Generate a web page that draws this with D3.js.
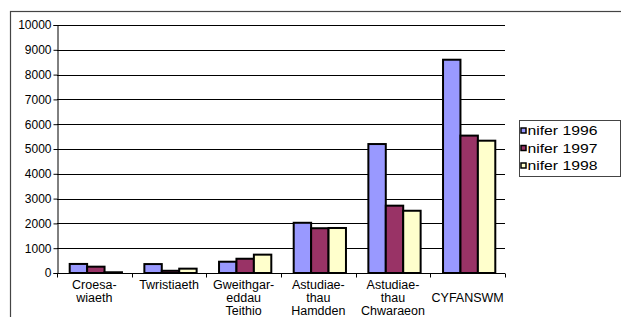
<!DOCTYPE html>
<html><head><meta charset="utf-8">
<script src="https://cdn.jsdelivr.net/npm/d3@7"></script>
<style>
html,body{margin:0;padding:0;background:#fff;}
svg{display:block;font-family:Arial,"Liberation Sans",sans-serif;}
</style></head>
<body><svg id="c" width="621" height="317"></svg>
<script>
const categories = ["Croesawiaeth","Twristiaeth","Gweithgareddau Teithio","Astudiaethau Hamdden","Astudiaethau Chwaraeon","CYFANSWM"];
const categoryLines = [["Croesa-","wiaeth"],["Twristiaeth"],["Gweithgar-","eddau","Teithio"],["Astudiae-","thau","Hamdden"],["Astudiae-","thau","Chwaraeon"],["","CYFANSWM"]];
const seriesNames = ["nifer 1996","nifer 1997","nifer 1998"];
const values1996 = [365, 360, 455, 2025, 5200, 8600];
const values1997 = [255, 90, 575, 1805, 2715, 5540];
const values1998 = [30, 175, 740, 1815, 2510, 5335];
const yTicks = [0,1000,2000,3000,4000,5000,6000,7000,8000,9000,10000];
const colors = ["#9999FF","#993366","#FFFFCC"];

(function(){
const seriesValues = [values1996, values1997, values1998];
const svg = d3.select("#c");
const FF = "Arial, 'Liberation Sans', sans-serif";

// outer frame
svg.append("rect").attr("x",10.5).attr("y",11.5).attr("width",640).attr("height",340)
  .attr("fill","none").attr("stroke","#444").attr("stroke-width",1.2);

const pL = 57, pR = 505, pT = 25, pB = 273;
const x = d3.scaleBand().domain(categories).range([pL, pR]).paddingInner(0.3).paddingOuter(0.15);
const xs = d3.scaleBand().domain(seriesNames).range([0, x.bandwidth()]);
const y = d3.scaleLinear().domain([0,10000]).range([pB, pT]);

// gridlines
svg.append("g").selectAll("line").data(yTicks.filter(d=>d>0)).join("line")
  .attr("x1",pL).attr("x2",pR)
  .attr("y1",d=>Math.round(y(d))+0.5).attr("y2",d=>Math.round(y(d))+0.5)
  .attr("stroke","#000").attr("stroke-width",1);

// bars
const g = svg.append("g");
categories.forEach((c,i)=>{
  seriesNames.forEach((s,j)=>{
    const v = seriesValues[j][i];
    g.append("rect")
      .attr("x", x(c)+xs(s)+1.5)
      .attr("y", y(v))
      .attr("width", xs.bandwidth())
      .attr("height", pB - y(v))
      .attr("fill", colors[j])
      .attr("stroke","#000").attr("stroke-width",2);
  });
});

// y axis
const yAxis = d3.axisLeft(y).tickValues(yTicks).tickSize(4).tickFormat(d3.format("d"));
const ya = svg.append("g").attr("transform",`translate(${pL+0.5},0)`).call(yAxis);
ya.select(".domain").attr("stroke","#000");
ya.selectAll(".tick line").attr("stroke","#000");
ya.selectAll(".tick text").attr("font-size",12).attr("fill","#000").attr("font-family",FF).attr("x",-6);

// x axis
const xa = svg.append("g").attr("transform",`translate(0,${pB+0.5})`);
xa.append("line").attr("x1",pL).attr("x2",pR).attr("stroke","#000");
const tks = [pL].concat(categories.slice(1).map(c=>x(c)-(x.step()-x.bandwidth())/2)).concat([pR]);
xa.selectAll("line.tk").data(tks)
  .join("line").attr("class","tk")
  .attr("x1",d=>Math.round(d)+0.5).attr("x2",d=>Math.round(d)+0.5).attr("y1",0).attr("y2",4).attr("stroke","#000");
categories.forEach((c,i)=>{
  const t = xa.append("text").attr("text-anchor","middle").attr("font-size",12.5).attr("fill","#000")
    .attr("font-family",FF);
  categoryLines[i].forEach((ln,k)=>{
    t.append("tspan").attr("x", x(c)+x.bandwidth()/2).attr("y", 15 + k*13.3).text(ln);
  });
});

// legend
const lg = svg.append("g").attr("transform","translate(519.5,120.5)");
lg.append("rect").attr("width",101).attr("height",56).attr("fill","#fff").attr("stroke","#444").attr("stroke-width",1);
seriesNames.forEach((s,j)=>{
  const base = 14.5 + j*17.5;
  lg.append("rect").attr("x",1.5).attr("y",base-7).attr("width",5).attr("height",5)
    .attr("fill",colors[j]).attr("stroke","#000").attr("stroke-width",1.5);
  lg.append("text").attr("x",8).attr("y",base).attr("font-size",13).attr("fill","#000")
    .attr("textLength",70).attr("lengthAdjust","spacingAndGlyphs")
    .attr("font-family",FF).text(s);
});
})();
</script></body></html>
